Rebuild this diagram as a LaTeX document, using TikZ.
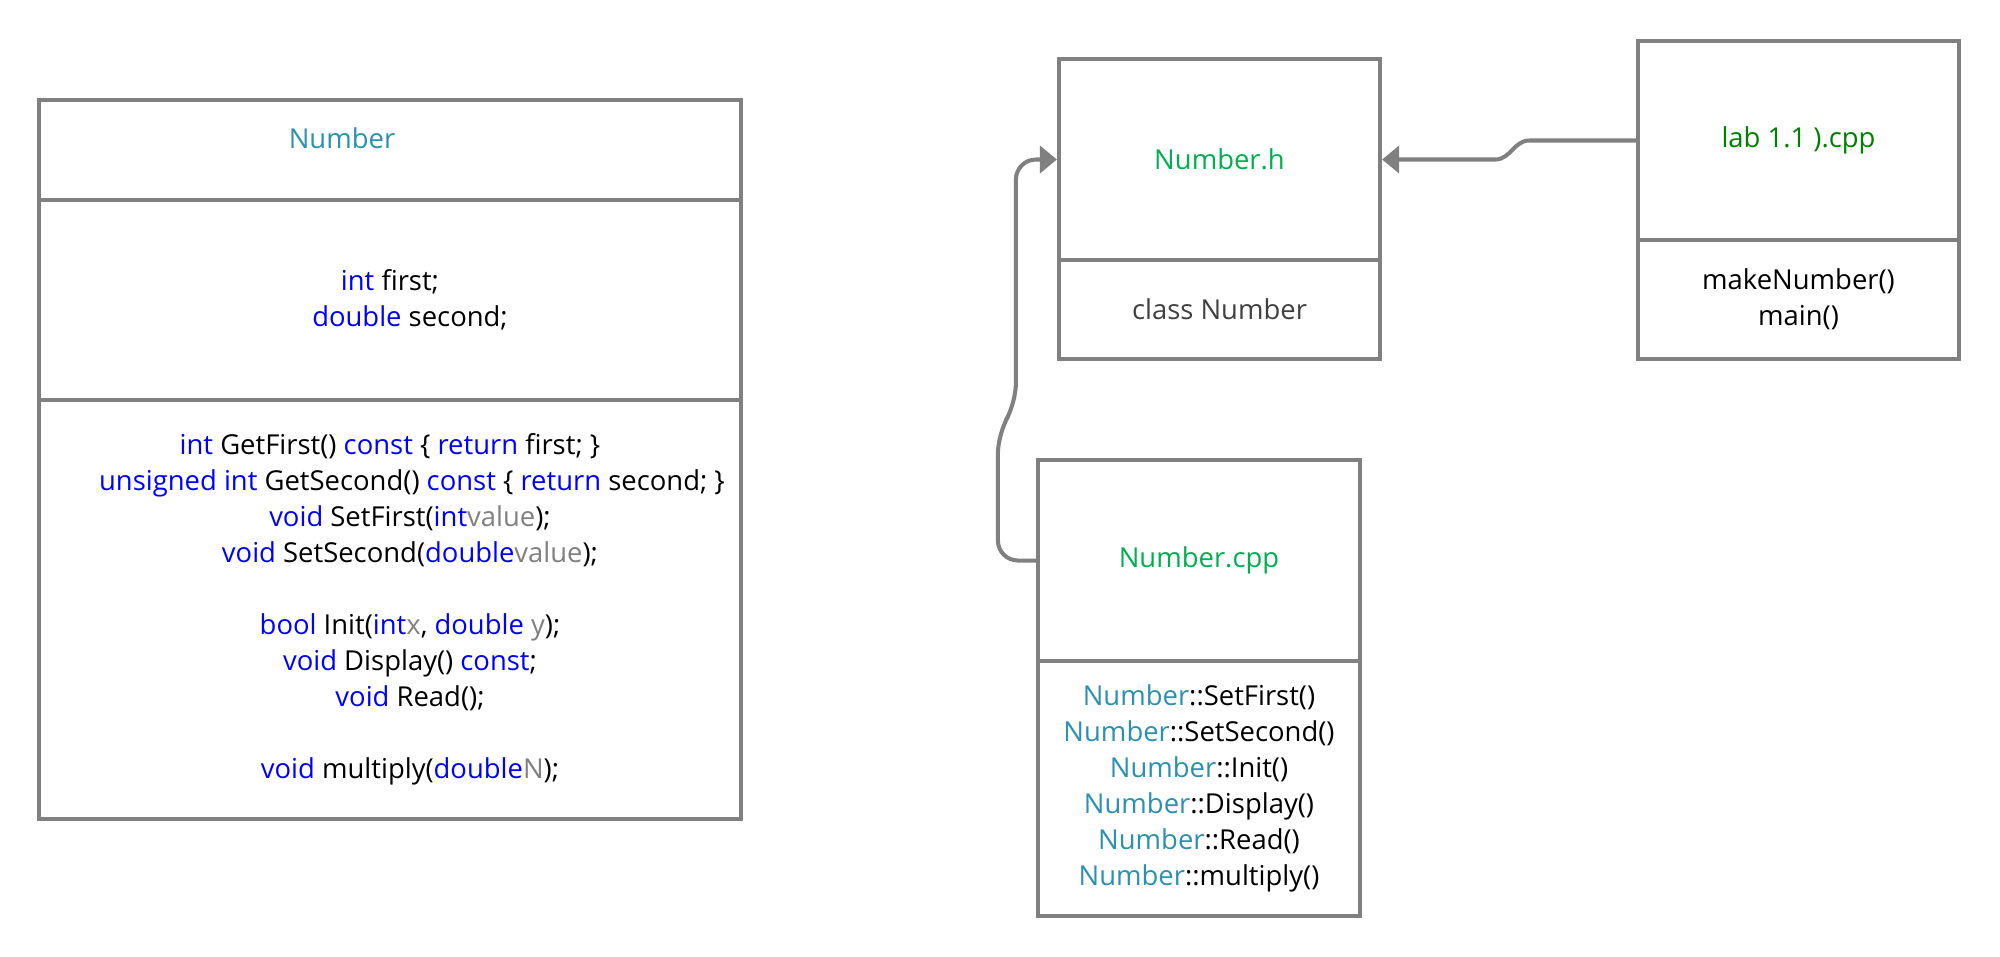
\documentclass[tikz,border=0pt]{standalone}
\usepackage{fontspec}
\setmainfont{Open Sans}
\usetikzlibrary{arrows.meta}
\definecolor{bordc}{HTML}{808080}
\definecolor{classc}{HTML}{2B91AF}
\definecolor{kwc}{HTML}{0000FF}
\definecolor{parc}{HTML}{808080}
\definecolor{fileg}{HTML}{00B050}
\definecolor{labg}{HTML}{008000}
\definecolor{notec}{HTML}{404040}
\newcommand{\kw}[1]{\textcolor{kwc}{#1}}
\newcommand{\pa}[1]{\textcolor{parc}{#1}}
\newcommand{\cl}[1]{\textcolor{classc}{#1}}
\newcommand{\ind}{\hspace*{0.4cm}}
\begin{document}
\begin{tikzpicture}[x=0.01cm,y=-0.01cm,>={Triangle[length=0.17cm,width=0.27cm]},
	every node/.style={font=\fontsize{7.8pt}{10.24pt}\selectfont},
	part/.style={draw=bordc,line width=1.15pt,inner sep=0pt,align=center},
	conn/.style={draw=bordc,line width=1.15pt,->}]
	\useasboundingbox (0,0) rectangle (2000,956);
	% class Number
	\node[part,minimum width=7.02cm,minimum height=1cm] (numT) at (390,150) {};
	\node[part,minimum width=7.02cm,minimum height=2cm] (numA) at (390,300)
		{\kw{int} first;\\ \ind\kw{double} second;};
	\node[part,minimum width=7.02cm,minimum height=4.19cm] (numM) at (390,609.5)
		{\kw{int} GetFirst() \kw{const} \{ \kw{return} first; \}\\
		\hspace*{0.44cm}\kw{unsigned int} GetSecond() \kw{const} \{ \kw{return} second; \}\\
		\ind\kw{void} SetFirst(\kw{int}\pa{value});\\
		\ind\kw{void} SetSecond(\kw{double}\pa{value});\\[10.24pt]
		\ind\kw{bool} Init(\kw{int}\pa{x}, \kw{double} \pa{y});\\
		\ind\kw{void} Display() \kw{const};\\
		\ind\kw{void} Read();\\[10.24pt]
		\ind\kw{void} multiply(\kw{double}\pa{N});};
	\node[text=classc] (numName) at (342,138) {Number};
	% files
	\node[part,minimum width=3.21cm,minimum height=2.01cm,text=fileg] (hT) at (1219.5,159.5) {Number.h};
	\node[part,minimum width=3.21cm,minimum height=0.99cm,text=notec] (hB) at (1219.5,309.5) {class Number};
	\node[part,minimum width=3.21cm,minimum height=1.99cm,text=labg] (labT) at (1798.5,140.5) {lab 1.1 ).cpp};
	\node[part,minimum width=3.21cm,minimum height=1.19cm] (labB) at (1798.5,299.5) {makeNumber()\\ main()};
	\node[part,minimum width=3.22cm,minimum height=2.01cm,text=fileg] (cppT) at (1199,560.5) {Number.cpp};
	\node[part,minimum width=3.22cm,minimum height=2.55cm] (cppB) at (1199,788.5)
		{\cl{Number}::SetFirst()\\ \cl{Number}::SetSecond()\\ \cl{Number}::Init()\\
		\cl{Number}::Display()\\ \cl{Number}::Read()\\ \cl{Number}::multiply()};
	% includes
	\draw[conn] (labT.west) -- ([xshift=1.47cm]hT.east |- labT.west) to[out=180,in=0] ([xshift=1.13cm]hT.east) -- (hT.east);
	\draw[conn,rounded corners=0.2cm] (cppT.west) -- ++(-38,0) -- ++(0,-127) -- ++(18,-30) |- (hT.west);
\end{tikzpicture}
\end{document}
